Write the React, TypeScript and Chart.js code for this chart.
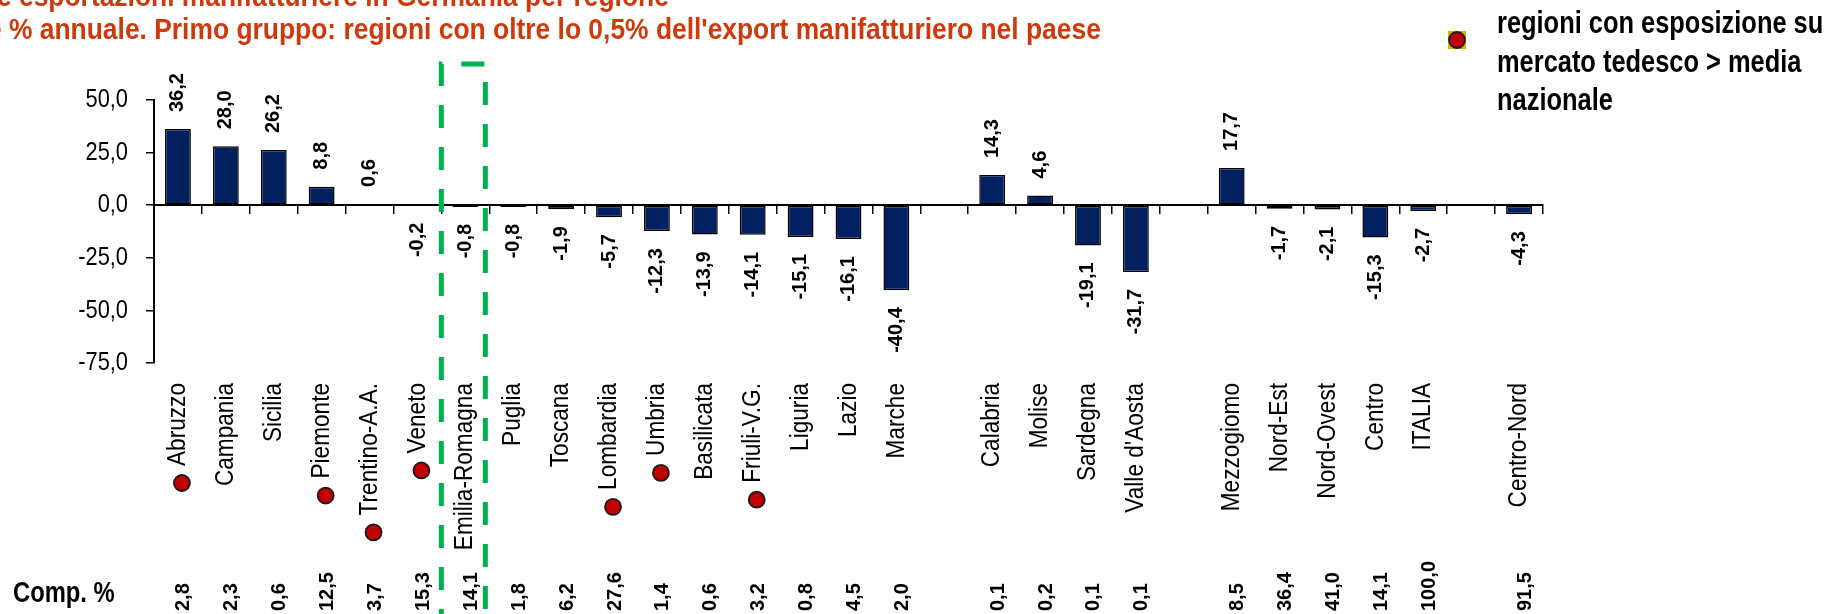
import React, { useEffect, useRef } from "react";
import { Chart, registerables } from "chart.js";

Chart.register(...registerables);

const categories = [
  "Abruzzo", "Campania", "Sicilia", "Piemonte", "Trentino-A.A.", "Veneto", "Emilia-Romagna",
  "Puglia", "Toscana", "Lombardia", "Umbria", "Basilicata", "Friuli-V.G.", "Liguria", "Lazio",
  "Marche", "", "Calabria", "Molise", "Sardegna", "Valle d'Aosta", "", "Mezzogiomo",
  "Nord-Est", "Nord-Ovest", "Centro", "ITALIA", "", "Centro-Nord",
];

const variation = [
  36.2, 28.0, 26.2, 8.8, 0.6, -0.2, -0.8, -0.8, -1.9, -5.7, -12.3, -13.9, -14.1, -15.1, -16.1,
  -40.4, null, 14.3, 4.6, -19.1, -31.7, null, 17.7, -1.7, -2.1, -15.3, -2.7, null, -4.3,
];

const composition = [
  2.8, 2.3, 0.6, 12.5, 3.7, 15.3, 14.1, 1.8, 6.2, 27.6, 1.4, 0.6, 3.2, 0.8, 4.5, 2.0, null,
  0.1, 0.2, 0.1, 0.1, null, 8.5, 36.4, 41.0, 14.1, 100.0, null, 91.5,
];

const aboveAverage = ["Abruzzo", "Piemonte", "Trentino-A.A.", "Veneto", "Lombardia", "Umbria", "Friuli-V.G."];
const highlighted = "Emilia-Romagna";
const yTicks = [50, 25, 0, -25, -50, -75];

const titleLine1 = "Andamento delle esportazioni manifatturiere in Germania per regione";
const titleLine2 = "Variazione % annuale. Primo gruppo: regioni con oltre lo 0,5% dell'export manifatturiero nel paese";
const legendLines = ["regioni con esposizione su", "mercato tedesco > media", "nazionale"];
const compLabel = "Comp. %";

const FONT = '"Liberation Sans", Arial, sans-serif';
const fmt = (v: number) => v.toFixed(1).replace(".", ",");

type TOpts = {
  font: string;
  color?: string;
  align?: CanvasTextAlign;
  baseline?: CanvasTextBaseline;
  rotate?: number;
  sx?: number;
};

function drawText(ctx: CanvasRenderingContext2D, text: string, x: number, y: number, o: TOpts) {
  ctx.save();
  ctx.font = o.font;
  ctx.fillStyle = o.color || "#000";
  ctx.textAlign = o.align || "left";
  ctx.textBaseline = o.baseline || "alphabetic";
  ctx.translate(x, y);
  if (o.rotate) ctx.rotate(o.rotate);
  ctx.scale(o.sx || 1, 1);
  ctx.fillText(text, 0, 0);
  ctx.restore();
}

function textWidth(ctx: CanvasRenderingContext2D, text: string, font: string, sx = 1) {
  ctx.save();
  ctx.font = font;
  const w = ctx.measureText(text).width * sx;
  ctx.restore();
  return w;
}

function drawDot(ctx: CanvasRenderingContext2D, x: number, y: number) {
  ctx.save();
  ctx.beginPath();
  ctx.arc(x, y, 8, 0, Math.PI * 2);
  ctx.fillStyle = "#C00000";
  ctx.fill();
  ctx.lineWidth = 1.8;
  ctx.strokeStyle = "#1a1a1a";
  ctx.stroke();
  ctx.restore();
}

const overlayPlugin = {
  id: "overlay",
  beforeDraw(chart: any) {
    const ctx = chart.ctx;
    ctx.save();
    ctx.fillStyle = "#fff";
    ctx.fillRect(0, 0, chart.width, chart.height);
    ctx.restore();
  },
  afterDraw(chart: any) {
    const ctx: CanvasRenderingContext2D = chart.ctx;
    const xs = chart.scales.x;
    const ys = chart.scales.y;
    const meta = chart.getDatasetMeta(0);
    const red = "#CF3A0C";

    // Title (partly cut off at the top)
    const tFont = `bold 30px ${FONT}`;
    const tsx = 0.88;
    const pre1 = textWidth(ctx, "Andamento delle ", tFont, tsx);
    drawText(ctx, titleLine1, 19 - pre1, 6, { font: tFont, color: red, sx: tsx });
    const pre2 = textWidth(ctx, "Variazione ", tFont, tsx);
    drawText(ctx, titleLine2, 9 - pre2, 39, { font: tFont, color: red, sx: tsx });

    // Legend
    ctx.save();
    ctx.fillStyle = "#D9B300";
    ctx.fillRect(1448, 31, 18, 18);
    ctx.restore();
    drawDot(ctx, 1457, 40);
    const lFont = `bold 31px ${FONT}`;
    const lBase = [33, 72, 110];
    legendLines.forEach((t, i) => drawText(ctx, t, 1497, lBase[i], { font: lFont, sx: 0.82 }));

    // Y tick labels
    const yFont = `26px ${FONT}`;
    yTicks.forEach((v) => {
      drawText(ctx, fmt(v), 128, ys.getPixelForValue(v), { font: yFont, align: "right", baseline: "middle", sx: 0.84 });
    });

    // Data labels
    const dFont = `bold 20px ${FONT}`;
    variation.forEach((v, i) => {
      if (v === null) return;
      const el = meta.data[i];
      const x = el.x;
      if (v >= 0) {
        drawText(ctx, fmt(v), x, el.y - 17, { font: dFont, align: "left", baseline: "middle", rotate: -Math.PI / 2 });
      } else {
        drawText(ctx, fmt(v), x, el.y + 17, { font: dFont, align: "right", baseline: "middle", rotate: -Math.PI / 2 });
      }
    });

    // Category labels + markers
    const cFont = `26px ${FONT}`;
    const labelTop = 383;
    categories.forEach((c, i) => {
      if (!c) return;
      const x = xs.getPixelForValue(i);
      drawText(ctx, c, x, labelTop, { font: cFont, align: "right", baseline: "middle", rotate: -Math.PI / 2, sx: 0.87 });
      if (aboveAverage.includes(c)) {
        const len = textWidth(ctx, c, cFont, 0.87);
        drawDot(ctx, x + 4, labelTop + len + 17);
      }
    });

    // Composition row
    drawText(ctx, compLabel, 13, 602, { font: `bold 29px ${FONT}`, sx: 0.82 });
    composition.forEach((v, i) => {
      if (v === null) return;
      const x = xs.getPixelForValue(i) + 6;
      drawText(ctx, fmt(v), x, 611, { font: dFont, align: "left", baseline: "middle", rotate: -Math.PI / 2 });
    });

    // Highlight box (green dashed)
    const hi = categories.indexOf(highlighted);
    const cx = xs.getPixelForValue(hi);
    const left = cx - 24;
    const right = cx + 20;
    const top = 64;
    ctx.save();
    ctx.strokeStyle = "#00B050";
    ctx.lineWidth = 5;
    ctx.lineCap = "butt";
    ctx.setLineDash([23, 19]);
    ctx.beginPath();
    ctx.moveTo(left, top + 42 * 13 + 22);
    ctx.lineTo(left, top);
    ctx.lineTo(right, top);
    ctx.lineTo(right, 640);
    ctx.stroke();
    ctx.restore();
  },
};

export default function App() {
  const ref = useRef<HTMLCanvasElement | null>(null);

  useEffect(() => {
    document.body.style.margin = "0";
    const canvas = ref.current;
    if (!canvas) return;
    const chart = new Chart(canvas, {
      type: "bar",
      data: {
        labels: categories,
        datasets: [
          {
            data: variation as any,
            backgroundColor: "#002060",
            borderColor: "#000000",
            borderWidth: 1.5,
            borderSkipped: false,
            barPercentage: 0.54,
            categoryPercentage: 1.0,
          },
        ],
      },
      options: {
        responsive: false,
        animation: false,
        devicePixelRatio: 1,
        layout: { padding: { left: 0, right: 293, top: 100, bottom: 251 } },
        plugins: { legend: { display: false }, tooltip: { enabled: false } },
        scales: {
          y: {
            min: -75,
            max: 50,
            ticks: { stepSize: 25, display: false },
            grid: { drawOnChartArea: false, drawTicks: true, tickLength: 8, color: "#000", lineWidth: 1.5 },
            border: { display: true, color: "#000", width: 2 },
            afterFit: (s: any) => {
              s.width = 154;
            },
          },
          x: {
            type: "category",
            position: { y: 0 } as any,
            offset: true,
            ticks: { display: false },
            grid: { offset: true, drawOnChartArea: false, drawTicks: true, tickLength: 8, color: "#000", lineWidth: 1.5 },
            border: { display: true, color: "#000", width: 2 },
          },
        },
      } as any,
      plugins: [overlayPlugin],
    });
    return () => chart.destroy();
  }, []);

  return <canvas ref={ref} width={1836} height={614} style={{ display: "block", width: 1836, height: 614 }} />;
}
